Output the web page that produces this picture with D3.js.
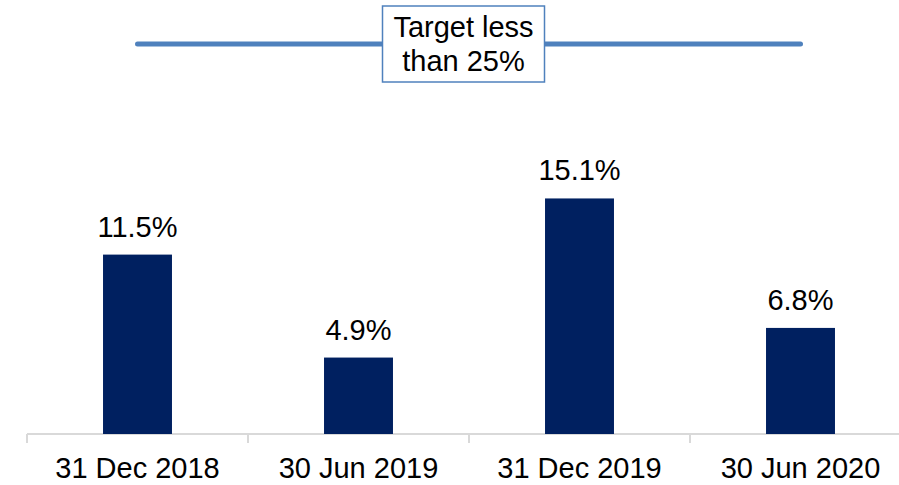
<!DOCTYPE html>
<html>
<head>
<meta charset="utf-8">
<script src="https://cdn.jsdelivr.net/npm/d3@7"></script>
<style>
  body { margin: 0; background: #fff; }
  svg { display: block; font-family: Arial, "Liberation Sans", sans-serif; }
</style>
</head>
<body>
<svg id="chart" width="899" height="485"></svg>
<script>
const categories = ["31 Dec 2018", "30 Jun 2019", "31 Dec 2019", "30 Jun 2020"];
const values = [11.5, 4.9, 15.1, 6.8];
const target = 25;
const targetText = ["Target less", "than 25%"];

const svg = d3.select("#chart");

const x = d3.scaleBand().domain(categories).range([27, 911]).paddingInner(0.688).paddingOuter(0.344);
const band = d3.scaleBand().domain(categories).range([27, 911]);
const y = d3.scaleLinear().domain([0, target]).range([434, 44]);

// axis line + ticks at category boundaries
svg.append("line")
  .attr("x1", 27).attr("x2", 899)
  .attr("y1", 434).attr("y2", 434)
  .attr("stroke", "#d9d9d9").attr("stroke-width", 2);

svg.selectAll("line.tick")
  .data(categories)
  .join("line")
  .attr("class", "tick")
  .attr("x1", d => band(d)).attr("x2", d => band(d))
  .attr("y1", 434).attr("y2", 443)
  .attr("stroke", "#d9d9d9").attr("stroke-width", 2);

// bars
svg.selectAll("rect.bar")
  .data(values)
  .join("rect")
  .attr("class", "bar")
  .attr("x", (d, i) => x(categories[i]))
  .attr("width", x.bandwidth())
  .attr("y", d => y(d))
  .attr("height", d => y(0) - y(d))
  .attr("fill", "#002060");

// value labels
svg.selectAll("text.val")
  .data(values)
  .join("text")
  .attr("class", "val")
  .attr("x", (d, i) => band(categories[i]) + band.bandwidth() / 2)
  .attr("y", d => y(d) - 18)
  .attr("text-anchor", "middle")
  .attr("font-size", 29)
  .attr("fill", "#000")
  .text(d => d.toFixed(1) + "%");

// category labels
svg.selectAll("text.cat")
  .data(categories)
  .join("text")
  .attr("class", "cat")
  .attr("x", d => band(d) + band.bandwidth() / 2)
  .attr("y", 478)
  .attr("text-anchor", "middle")
  .attr("font-size", 29)
  .attr("fill", "#000")
  .text(d => d);

// target line from first to last category centre
const cx0 = band(categories[0]) + band.bandwidth() / 2;
const cx1 = band(categories[categories.length - 1]) + band.bandwidth() / 2;
svg.append("line")
  .attr("x1", cx0).attr("x2", cx1)
  .attr("y1", y(target)).attr("y2", y(target))
  .attr("stroke", "#4f81bd").attr("stroke-width", 5)
  .attr("stroke-linecap", "round");

// target label box
const boxW = 162, boxH = 76;
const mid = (cx0 + cx1) / 2 - 5.5;
svg.append("rect")
  .attr("x", mid - boxW / 2).attr("y", 6)
  .attr("width", boxW).attr("height", boxH)
  .attr("fill", "#fff")
  .attr("stroke", "#4f81bd").attr("stroke-width", 1.5);

svg.selectAll("text.tgt")
  .data(targetText)
  .join("text")
  .attr("class", "tgt")
  .attr("x", mid)
  .attr("y", (d, i) => 37 + i * 34)
  .attr("text-anchor", "middle")
  .attr("font-size", 29)
  .attr("fill", "#000")
  .text(d => d);
</script>
</body>
</html>
